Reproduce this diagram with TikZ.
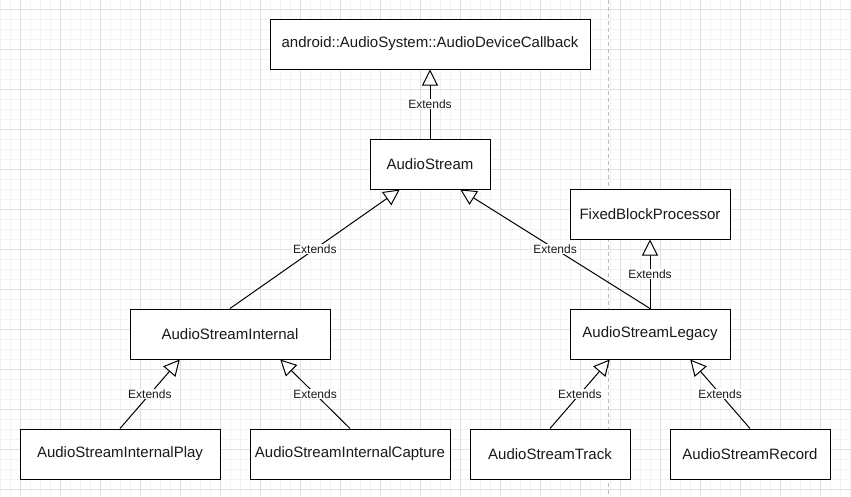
\documentclass[tikz,border=0pt]{standalone}
\usepackage{fontspec}
\setmainfont{Liberation Sans}
\usetikzlibrary{arrows.meta,calc}
\definecolor{gridmajor}{HTML}{E0E0E0}
\definecolor{gridminor}{HTML}{F3F3F3}
\definecolor{dashgray}{HTML}{BDBDBD}
\tikzset{
  cls/.style={draw=black, line width=1pt, fill=white, minimum width=#1, minimum height=50pt, inner sep=0pt, font=\fontsize{15}{18}\selectfont, text=black!90},
  ext/.style={draw=black, line width=1pt, -{Triangle[open, length=16pt, width=16pt, fill=white]}},
  lbl/.style={fill=white, inner sep=1pt, font=\fontsize{12}{14}\selectfont, text=black!90}
}
\begin{document}
\begin{tikzpicture}[x=1pt, y=-1pt]
\useasboundingbox (0,0) rectangle (851,496);
\fill[white] (0,0) rectangle (851,496);
% grid
\foreach \gx in {0,10,...,850} \draw[gridminor, line width=1pt] (\gx,0) -- (\gx,496);
\foreach \gy in {-1,9,...,496} \draw[gridminor, line width=1pt] (0,\gy) -- (851,\gy);
\foreach \gx in {20,60,...,850} \draw[gridmajor, line width=1pt] (\gx,0) -- (\gx,496);
\foreach \gy in {9,49,...,496} \draw[gridmajor, line width=1pt] (0,\gy) -- (851,\gy);
\draw[dashgray, line width=1pt, dash pattern=on 4pt off 3pt] (608,0) -- (608,496);
% nodes
\node[cls=320pt] (cb) at (430,44) {android::AudioSystem::AudioDeviceCallback};
\node[cls=120pt] (stream) at (430,164) {AudioStream};
\node[cls=160pt] (fbp) at (650,214) {FixedBlockProcessor};
\node[cls=200pt] (internal) at (230,334) {AudioStreamInternal};
\node[cls=160pt] (legacy) at (650,334) {AudioStreamLegacy};
\node[cls=200pt] (play) at (120,454) {AudioStreamInternalPlay};
\node[cls=200pt] (capture) at (350,454) {AudioStreamInternalCapture};
\node[cls=160pt] (track) at (550,454) {AudioStreamTrack};
\node[cls=160pt] (record) at (750,454) {AudioStreamRecord};
% edges
\draw[ext] (stream.north) -- node[lbl] {Extends} (cb.south);
\draw[ext] (internal.north) -- node[lbl] {Extends} ($(stream.south west)!0.25!(stream.south east)$);
\draw[ext] (legacy.north) -- node[lbl] {Extends} ($(stream.south west)!0.75!(stream.south east)$);
\draw[ext] (legacy.north) -- node[lbl] {Extends} (fbp.south);
\draw[ext] (play.north) -- node[lbl] {Extends} ($(internal.south west)!0.25!(internal.south east)$);
\draw[ext] (capture.north) -- node[lbl] {Extends} ($(internal.south west)!0.75!(internal.south east)$);
\draw[ext] (track.north) -- node[lbl] {Extends} ($(legacy.south west)!0.25!(legacy.south east)$);
\draw[ext] (record.north) -- node[lbl] {Extends} ($(legacy.south west)!0.75!(legacy.south east)$);
\end{tikzpicture}
\end{document}
